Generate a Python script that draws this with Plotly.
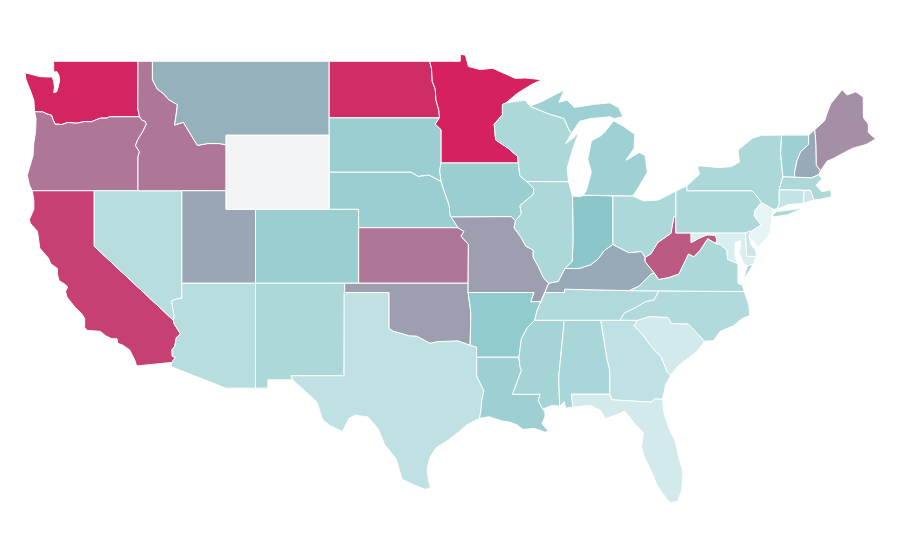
import plotly.graph_objects as go
from plotly.colors import sample_colorscale

# the geo subplot needs a topojson file from the cdn, so the states are lon/lat outlines here
# shared borders
columbia = [(-124.05,46.27),(-123.5,46.26),(-123.2,46.15),(-122.9,46.08),(-122.8,45.85),(-122.65,45.6),(-122.2,45.58),(-121.8,45.69),(-121.2,45.65),(-120.65,45.74),(-120.2,45.73),(-119.6,45.92),(-119.1,45.93),(-118.98,46.0),(-116.92,46.0)]
snake = [(-116.92,46.0),(-116.78,45.83),(-116.55,45.75),(-116.46,45.6),(-116.68,45.24),(-116.85,45.0),(-117.05,44.75),(-117.2,44.45),(-117.03,44.25),(-116.93,44.1),(-117.03,43.83),(-117.03,42.0)]
id_mt = [(-116.05,49),(-116.05,48.0),(-115.72,47.5),(-115.3,47.25),(-114.95,46.93),(-114.35,46.65),(-114.45,46.0),(-114.55,45.55),(-113.95,45.7),(-113.45,45.05),(-113.0,44.45),(-112.3,44.55),(-111.5,44.55),(-111.05,44.48)]
colorado = [(-114.63,35.0),(-114.57,34.8),(-114.15,34.27),(-114.43,34.05),(-114.53,33.6),(-114.72,33.4),(-114.7,33.05),(-114.5,33.0),(-114.72,32.72)]
red_north = [(-97.23,49),(-97.1,48.6),(-97.05,47.9),(-96.85,47.5),(-96.8,46.9),(-96.6,46.33),(-96.56,45.94)]
sd_mn = [(-96.56,45.94),(-96.85,45.6),(-96.45,45.3),(-96.45,43.5)]
sd_ne = [(-104.05,43),(-98.5,43),(-98.0,42.77),(-97.3,42.85),(-96.7,42.6),(-96.45,42.49)]
sd_ia = [(-96.45,43.5),(-96.55,43.1),(-96.45,42.49)]
ne_ia = [(-96.45,42.49),(-96.25,42.0),(-96.1,41.6),(-95.9,41.2),(-95.85,40.7),(-95.77,40.58)]
ne_mo = [(-95.77,40.58),(-95.3,40.0)]
ks_mo = [(-95.3,40.0),(-94.9,39.8),(-95.1,39.55),(-94.6,39.1),(-94.62,37)]
red_south = [(-100,34.56),(-99.7,34.4),(-99.2,34.3),(-98.6,34.15),(-98.1,34.13),(-97.7,33.98),(-97.2,33.75),(-96.6,33.85),(-96.0,33.85),(-95.3,33.88),(-94.48,33.64)]
ok_ar = [(-94.62,36.5),(-94.43,35.4),(-94.48,33.64)]
tx_la = [(-94.04,33.0),(-94.04,31.99),(-93.55,31.2),(-93.7,30.6),(-93.75,30.1),(-93.85,29.7)]
miss_upper = [(-91.22,43.5),(-91.25,43.85),(-91.9,44.3),(-92.2,44.45),(-92.75,44.75),(-92.85,45.6),(-92.29,46.1),(-92.29,46.66),(-92.05,46.75)]
ia_wi = [(-91.22,43.5),(-91.1,42.8),(-90.65,42.5)]
ia_il = [(-90.65,42.5),(-90.15,42.1),(-90.2,41.8),(-91.1,41.2),(-91.0,40.75),(-91.4,40.38)]
mo_il = [(-91.4,40.38),(-91.5,40.0),(-91.0,39.45),(-90.7,39.0),(-90.2,38.8),(-90.2,38.4),(-89.85,37.9),(-89.5,37.3),(-89.15,37.0)]
mo_ky_tn = [(-89.15,37.0),(-89.4,36.5),(-89.7,36.0)]
ar_tn = [(-89.7,36.0),(-89.95,35.5),(-90.1,35.0)]
ar_ms = [(-90.1,35.0),(-90.6,34.6),(-91.0,34.0),(-91.17,33.0)]
la_ms = [(-91.17,33.0),(-91.1,32.5),(-91.0,32.3),(-91.6,31.0),(-89.73,31.0),(-89.85,30.65),(-89.55,30.2)]
ms_al = [(-88.2,35),(-88.1,34.9),(-88.47,31.9),(-88.4,30.35)]
al_ga = [(-85.61,35),(-85.18,32.87),(-85.0,32.3),(-85.0,31.0)]
ga_fl = [(-85.0,31.0),(-84.86,30.7),(-82.2,30.57),(-81.95,30.75),(-81.42,30.72)]
ga_sc = [(-83.11,35),(-83.35,34.7),(-82.75,34.2),(-82.2,33.6),(-81.5,33.0),(-81.1,32.2),(-80.85,32.03)]
nc_sc = [(-83.11,35),(-82.3,35.2),(-81.05,35.15),(-80.8,34.82),(-79.67,34.8),(-78.55,33.86)]
nc_tn = [(-84.32,35),(-84.0,35.4),(-83.1,35.75),(-82.6,36.0),(-82.0,36.1),(-81.68,36.59)]
ky_va = [(-83.67,36.6),(-83.0,36.85),(-82.2,37.5),(-81.97,37.54)]
ky_wv = [(-81.97,37.54),(-82.6,38.17),(-82.6,38.4)]
ohio_ky = [(-82.6,38.4),(-82.85,38.72),(-83.7,38.65),(-84.8,39.1)]
ohio_in = [(-84.8,39.1),(-85.4,38.75),(-85.8,38.3),(-86.3,38.0),(-87.1,37.8),(-88.05,37.8)]
ohio_il = [(-88.05,37.8),(-88.5,37.1),(-89.15,37.0)]
oh_wv = [(-82.6,38.4),(-82.2,38.6),(-81.75,39.2),(-81.4,39.4),(-80.85,39.7),(-80.65,40.6),(-80.52,40.64)]
va_wv = [(-81.97,37.54),(-81.68,37.2),(-81.0,37.3),(-80.3,37.5),(-79.65,38.58),(-79.3,38.42),(-78.87,38.77),(-78.35,39.4),(-77.83,39.15)]
md_wv = [(-77.83,39.15),(-77.72,39.32),(-77.83,39.6),(-78.4,39.62),(-78.9,39.45),(-79.48,39.2),(-79.48,39.72)]
md_va = [(-76.3,38.05),(-77.0,38.3),(-77.05,38.8),(-77.5,39.1),(-77.83,39.15)]
pa_nj = [(-74.7,41.36),(-75.13,40.95),(-75.2,40.65),(-74.72,40.15),(-75.4,39.8)]
nh_vt = [(-71.5,45.01),(-71.5,44.5),(-72.05,44.1),(-72.3,43.6),(-72.45,43.0),(-72.46,42.73)]
ny_vt = [(-73.25,42.75),(-73.35,43.6),(-73.4,44.0),(-73.34,45.01)]
me_nh = [(-71.08,45.3),(-71.0,44.5),(-70.98,43.4),(-70.7,43.07)]


def rev(chain):
    return chain[::-1]


washington = [(-117.03,49),(-122.76,49),(-122.75,48.4),(-122.55,48.45),(-122.4,48.25),(-122.35,47.95),(-122.45,47.6),(-122.55,47.35),(-122.75,47.3),(-122.7,47.6),(-122.75,47.9),(-122.85,48.15),(-123.15,48.15),(-123.7,48.17),(-124.7,48.38),(-124.63,48.0),(-124.3,47.35),(-124.1,46.9)] + columbia + [(-117.04,46.42)]
oregon = columbia + snake + [(-124.21,42.0),(-124.4,42.3),(-124.55,42.84),(-124.4,43.2),(-124.15,43.9),(-124.1,44.6),(-123.98,45.2),(-123.95,45.9)]
california = [(-124.21,42),(-120,42),(-120,39)] + colorado + [(-117.12,32.53),(-117.25,32.85),(-117.6,33.4),(-118.05,33.65),(-118.4,33.75),(-118.45,34.0),(-118.8,34.0),(-119.2,34.15),(-119.6,34.4),(-120.45,34.45),(-120.65,34.6),(-120.65,35.1),(-120.85,35.35),(-121.3,35.7),(-121.85,36.25),(-121.95,36.55),(-121.8,36.8),(-122.0,36.95),(-122.4,37.15),(-122.5,37.5),(-122.5,37.8),(-122.95,38.05),(-123.1,38.35),(-123.7,38.9),(-123.75,39.2),(-123.85,39.8),(-124.35,40.25),(-124.4,40.45),(-124.1,41.0),(-124.1,41.5)]
nevada = [(-120,42),(-114.05,42),(-114.05,36.2),(-114.4,36.15),(-114.75,36.05),(-114.57,35.2),(-114.63,35.0),(-120,39)]
idaho = [(-117.03,49)] + id_mt + [(-111.05,42)] + rev(snake) + [(-117.04,46.42)]
montana = id_mt + [(-111.05,45),(-104.05,45),(-104.05,49)]
wyoming = [(-111.05,45),(-104.05,45),(-104.05,41),(-111.05,41)]
utah = [(-114.05,42),(-111.05,42),(-111.05,41),(-109.05,41),(-109.05,37),(-114.05,37)]
colorado_state = [(-109.05,41),(-102.05,41),(-102.05,37),(-109.05,37)]
arizona = [(-114.05,37),(-109.05,37),(-109.05,31.33),(-111.07,31.33),(-114.81,32.5),(-114.72,32.72)] + rev(colorado) + [(-114.57,35.2),(-114.75,36.05),(-114.4,36.15),(-114.05,36.2)]
new_mexico = [(-109.05,37),(-103.0,37),(-103.04,32),(-106.62,32),(-106.53,31.78),(-108.21,31.78),(-108.21,31.33),(-109.05,31.33)]
north_dakota = [(-104.05,49)] + red_north + [(-104.05,45.94)]
south_dakota = [(-104.05,45.94)] + sd_mn + sd_ia + rev(sd_ne)
nebraska = sd_ne + ne_ia + ne_mo + [(-102.05,40),(-102.05,41),(-104.05,41)]
kansas = [(-102.05,40)] + ks_mo + [(-102.05,37)]
oklahoma = [(-103,37),(-94.62,37)] + ok_ar + rev(red_south) + [(-100,36.5),(-103,36.5)]
texas = [(-103.04,36.5),(-100,36.5)] + red_south + [(-94.04,33.55)] + tx_la + [(-94.7,29.35),(-95.2,29.0),(-96.0,28.5),(-96.8,28.1),(-97.2,27.6),(-97.4,27.0),(-97.3,26.3),(-97.15,25.96),(-97.5,25.85),(-98.3,26.1),(-99.1,26.4),(-99.5,27.5),(-100.3,28.3),(-100.7,29.1),(-101.4,29.77),(-102.3,29.87),(-102.7,29.7),(-103.15,28.98),(-104.0,29.3),(-104.5,29.65),(-104.9,30.6),(-106.0,31.4),(-106.53,31.78),(-106.62,32),(-103.04,32)]
minnesota = [(-97.23,49),(-95.15,49),(-95.15,49.38),(-94.8,49.33),(-94.6,48.72),(-93.8,48.55),(-92.95,48.62),(-92.0,48.3),(-91.4,48.07),(-90.75,48.1),(-89.6,48.0),(-90.3,47.75),(-91.3,47.25)] + rev(miss_upper) + [(-96.45,43.5)] + rev(sd_mn) + rev(red_north)
iowa = [(-96.45,43.5)] + ia_wi + ia_il + [(-91.7,40.6)] + rev(ne_ia) + rev(sd_ia)
missouri = [(-95.77,40.58),(-91.7,40.6)] + mo_il + mo_ky_tn + [(-90.37,36.0),(-90.15,36.5),(-94.62,36.5)] + rev(ks_mo) + rev(ne_mo)
arkansas = [(-94.62,36.5),(-90.15,36.5),(-90.37,36.0)] + ar_tn + ar_ms + [(-94.04,33.0),(-94.04,33.55),(-94.48,33.64)] + rev(ok_ar)
louisiana = la_ms + [(-89.4,30.05),(-89.4,29.8),(-89.6,29.4),(-89.15,29.0),(-89.4,28.95),(-90.1,29.15),(-90.9,29.1),(-91.3,29.35),(-91.85,29.5),(-92.3,29.55),(-93.2,29.78)] + rev(tx_la)
mississippi = ar_ms + la_ms[1:] + [(-88.9,30.4),(-88.4,30.35)] + rev(ms_al)
alabama = ms_al[:-1] + [(-88.4,30.35),(-88.1,30.6),(-88.0,30.25),(-87.5,30.3),(-87.6,31.0)] + rev(al_ga)
georgia = al_ga + ga_fl + [(-81.2,31.55)] + rev(ga_sc)
florida = [(-87.6,31)] + ga_fl + [(-81.3,29.9),(-80.9,29.0),(-80.55,28.45),(-80.3,27.5),(-80.03,26.8),(-80.12,25.8),(-80.4,25.2),(-80.9,25.15),(-81.15,25.35),(-81.8,26.1),(-82.1,26.7),(-82.7,27.7),(-82.85,28.2),(-82.7,28.9),(-83.4,29.5),(-84.0,30.1),(-84.35,29.95),(-85.3,29.68),(-85.6,30.1),(-86.3,30.4),(-87.5,30.3)]
south_carolina = ga_sc + [(-80.4,32.5),(-79.6,33.0),(-79.1,33.3)] + rev(nc_sc)
north_carolina = [(-84.32,35)] + nc_sc + [(-77.95,33.9),(-77.5,34.4),(-76.6,34.7),(-76.0,35.1),(-75.5,35.25),(-75.55,35.8),(-75.87,36.55)] + rev(nc_tn)
tennessee = [(-90.1,35.0),(-84.32,35)] + nc_tn[1:] + [(-83.67,36.6),(-88.07,36.68),(-88.07,36.5),(-89.4,36.5),(-89.7,36.0),(-89.95,35.5)]
kentucky = [(-89.4,36.5),(-88.07,36.5),(-88.07,36.68)] + ky_va + ky_wv + ohio_ky[1:] + ohio_in[1:] + ohio_il[1:]
west_virginia = oh_wv + [(-80.52,39.72)] + rev(md_wv) + rev(va_wv) + ky_wv[1:]
virginia = [(-83.67,36.6),(-81.68,36.59),(-75.87,36.55),(-76.0,36.9),(-76.3,37.0),(-76.3,37.6),(-76.3,38.05)] + md_va[1:] + rev(va_wv) + rev(ky_va)[1:] + [None] + [(-75.95,37.15),(-75.65,37.95),(-75.25,38.03),(-75.6,37.55)]
maryland = [(-79.48,39.72),(-75.79,39.72),(-75.7,38.46),(-75.05,38.45),(-75.25,38.03),(-75.65,37.95),(-75.85,38.0),(-76.2,38.6),(-76.1,39.3),(-76.5,39.2),(-76.5,38.5)] + md_va + md_wv[1:]
delaware = [(-75.79,39.72),(-75.5,39.83),(-75.4,39.8),(-75.55,39.5),(-75.4,39.05),(-75.1,38.8),(-75.05,38.45),(-75.7,38.46)]
pennsylvania = [(-80.52,41.98),(-79.76,42.27),(-79.76,42.0),(-75.35,42.0),(-75.05,41.75)] + pa_nj + [(-75.5,39.83),(-75.79,39.72),(-80.52,39.72)]
new_jersey = [(-74.7,41.36),(-73.9,41.0),(-74.05,40.65),(-74.0,40.45),(-74.1,39.75),(-74.4,39.4),(-74.9,38.95),(-75.2,39.25),(-75.55,39.5),(-75.4,39.8)] + rev(pa_nj)[1:]
new_york = [(-79.76,42.27),(-79.76,42.0),(-75.35,42),(-75.05,41.75),(-74.7,41.36),(-73.9,41.0),(-73.65,41.0),(-73.5,41.3),(-73.5,42.05)] + ny_vt + [(-74.7,45.0),(-75.3,44.85),(-76.3,44.2),(-76.2,43.55),(-76.8,43.3),(-77.6,43.25),(-78.9,43.35),(-79.05,43.25),(-78.9,42.9),None,(-74.03,40.6),(-73.75,40.6),(-72.9,40.7),(-71.9,41.05),(-72.6,40.98),(-73.7,40.87)]
ohio = [(-84.8,41.72)] + [(-84.8,39.1)] + rev(ohio_ky)[1:] + oh_wv[1:] + [(-80.52,41.98),(-81.7,41.5),(-82.7,41.45),(-83.45,41.72)]
indiana = [(-84.8,41.72),(-84.8,39.1)] + ohio_in[1:] + [(-87.55,38.2),(-87.5,39.3),(-87.53,41.72),(-87.0,41.68),(-86.8,41.76)]
illinois = [(-87.53,41.72),(-87.8,42.49),(-90.65,42.5)] + ia_il[1:] + mo_il[1:] + rev(ohio_il)[1:] + [(-87.55,38.2),(-87.5,39.3)]
wisconsin = [(-92.05,46.75),(-91.2,46.87),(-90.75,46.9),(-90.42,46.57),(-89.1,46.14),(-88.1,45.9),(-87.8,45.35),(-87.6,45.1),(-88.0,44.55),(-87.4,44.9),(-87.05,45.25),(-87.5,44.3),(-87.9,43.2),(-87.8,42.49),(-90.65,42.5),(-91.1,42.8)] + miss_upper
michigan = [(-86.8,41.76),(-84.8,41.72),(-83.45,41.72),(-83.15,42.05),(-82.45,43.0),(-82.6,43.9),(-83.0,44.07),(-83.9,43.65),(-83.35,44.3),(-83.3,45.05),(-84.1,45.5),(-84.75,45.78),(-85.1,45.4),(-85.55,45.0),(-86.25,44.7),(-86.5,43.7),(-86.25,43.0),(-86.6,42.0),None,(-90.42,46.57),(-89.1,46.14),(-88.1,45.9),(-87.8,45.35),(-87.6,45.1),(-87.05,45.75),(-86.3,45.9),(-85.0,46.0),(-84.7,45.9),(-84.1,46.0),(-84.4,46.5),(-85.0,46.75),(-86.1,46.67),(-87.4,46.5),(-87.9,46.9),(-88.45,46.78),(-88.1,47.45),(-89.6,46.83)]
vermont = [(-73.34,45.01)] + nh_vt + ny_vt
new_hampshire = nh_vt + [(-71.3,42.7),(-70.82,42.87)] + rev(me_nh)
maine = me_nh + [(-70.25,43.6),(-69.8,43.75),(-69.0,44.1),(-68.5,44.3),(-67.6,44.5),(-66.95,44.8),(-67.45,45.15),(-67.45,45.6),(-67.78,45.95),(-67.8,47.07),(-68.3,47.35),(-68.9,47.18),(-69.23,47.46),(-70.0,46.7),(-70.25,46.2),(-70.4,45.8)]
massachusetts = [(-73.5,42.05),(-73.25,42.75),(-72.46,42.73),(-71.3,42.7),(-70.82,42.87),(-70.6,42.65),(-71.0,42.3),(-70.6,41.95),(-70.0,42.05),(-69.95,41.67),(-70.65,41.55),(-71.15,41.5),(-71.38,42.02),(-71.8,42.02)]
connecticut = [(-73.5,42.05),(-71.8,42.02),(-71.85,41.32),(-72.9,41.25),(-73.65,41.0),(-73.5,41.3)]
rhode_island = [(-71.8,42.02),(-71.38,42.02),(-71.15,41.5),(-71.85,41.32)]

outlines = {
    "Washington": washington, "Oregon": oregon, "California": california, "Nevada": nevada, "Idaho": idaho,
    "Montana": montana, "Utah": utah, "Colorado": colorado_state, "Arizona": arizona, "New Mexico": new_mexico,
    "North Dakota": north_dakota, "South Dakota": south_dakota, "Nebraska": nebraska, "Kansas": kansas,
    "Oklahoma": oklahoma, "Texas": texas, "Minnesota": minnesota, "Iowa": iowa, "Missouri": missouri,
    "Arkansas": arkansas, "Louisiana": louisiana, "Mississippi": mississippi, "Alabama": alabama,
    "Georgia": georgia, "Florida": florida, "South Carolina": south_carolina, "North Carolina": north_carolina,
    "Tennessee": tennessee, "Kentucky": kentucky, "West Virginia": west_virginia, "Virginia": virginia,
    "Maryland": maryland, "Delaware": delaware, "Pennsylvania": pennsylvania, "New Jersey": new_jersey,
    "New York": new_york, "Ohio": ohio, "Indiana": indiana, "Illinois": illinois, "Wisconsin": wisconsin,
    "Michigan": michigan, "Vermont": vermont, "New Hampshire": new_hampshire, "Maine": maine,
    "Massachusetts": massachusetts, "Connecticut": connecticut, "Rhode Island": rhode_island,
}

states = ["Washington","Oregon","California","Nevada","Idaho","Montana","Utah","Colorado","Arizona","New Mexico",
          "North Dakota","South Dakota","Nebraska","Kansas","Oklahoma","Texas","Minnesota","Iowa","Missouri",
          "Arkansas","Louisiana","Mississippi","Alabama","Georgia","Florida","South Carolina","North Carolina",
          "Tennessee","Kentucky","West Virginia","Virginia","Maryland","Delaware","Pennsylvania","New Jersey",
          "New York","Ohio","Indiana","Illinois","Wisconsin","Michigan","Vermont","New Hampshire","Maine",
          "Massachusetts","Connecticut","Rhode Island"]
values = [98,61,86,13,61,35,40,21,13,16,
          95,21,21,61,43.5,11,100,21,43.5,
          23,20,18,17,11,6,6,14.5,
          15,38.5,74.5,16,4,8,16,0.5,
          16,16,25,16,16,19.5,20,38.5,50.5,
          16,10,8]

scale = [[0, "#e8f5f6"], [0.25, "#8bc7ca"], [1, "#d5215f"]]


def closed(pts):
    # each part of a state gets closed on its own, parts split by None
    xs, ys, start = [], [], None
    for p in pts + [None]:
        if p is None:
            xs += [start[0], None]
            ys += [start[1], None]
            start = None
        else:
            start = start or p
            xs.append(p[0])
            ys.append(p[1])
    return xs[:-1], ys[:-1]


fig = go.Figure()
for name, value in zip(states, values):
    xs, ys = closed(outlines[name])
    fig.add_trace(go.Scatter(
        x=xs,
        y=ys,
        mode="lines",
        fill="toself",
        fillcolor=sample_colorscale(scale, value / 100)[0],
        line=dict(color="white", width=1),
        name=name,
        text=f"{name}: {value}",
        hoverinfo="text",
    ))

# no data for Wyoming
xs, ys = closed(wyoming)
fig.add_trace(go.Scatter(
    x=xs,
    y=ys,
    mode="lines",
    fill="toself",
    fillcolor="#f3f4f6",
    line=dict(color="white", width=1),
    name="Wyoming",
    hoverinfo="name",
))

fig.update_xaxes(range=[-125.854, -64.756], visible=False)
fig.update_yaxes(range=[21.608, 51.878], visible=False)
fig.update_layout(width=900, height=560, margin=dict(l=0, r=0, t=0, b=0), showlegend=False,
                  paper_bgcolor="white", plot_bgcolor="white")
fig.write_html("out.html")
